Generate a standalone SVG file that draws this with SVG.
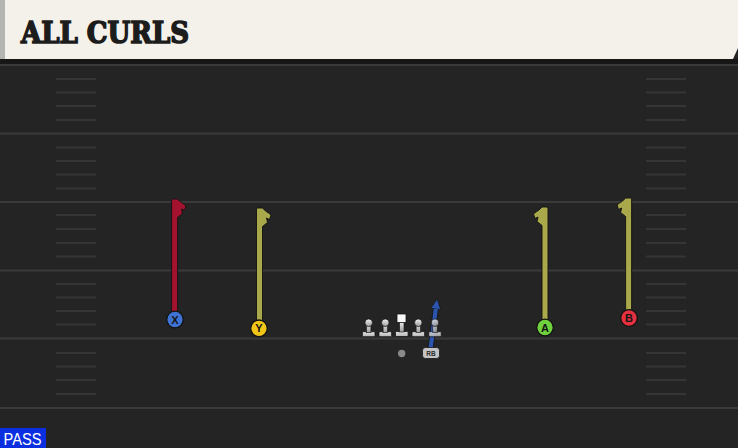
<svg xmlns="http://www.w3.org/2000/svg" width="738" height="448" viewBox="0 0 738 448">
<defs>
<linearGradient id="lg" x1="0" y1="0" x2="0" y2="1">
<stop offset="0" stop-color="#f2f2f2"/>
<stop offset="1" stop-color="#9a9a9a"/>
</linearGradient>
<linearGradient id="bg" x1="0" y1="0" x2="0" y2="1">
<stop offset="0" stop-color="#e4e4e4"/>
<stop offset="1" stop-color="#b4b4b4"/>
</linearGradient>
<marker id="arrB" viewBox="0 0 10 10" refX="4" refY="5" markerWidth="2.4" markerHeight="2.4" orient="auto">
<path d="M0,0 L10,5 L0,10 Z" fill="#2d55b0" stroke="#121212" stroke-width="0.6"/>
</marker>
<g id="lineman">
<rect x="-6.3" y="9" width="12.6" height="5" rx="1" fill="url(#bg)" stroke="#151515" stroke-width="0.8"/>
<rect x="-2.2" y="0" width="4.4" height="10" fill="url(#lg)" stroke="#151515" stroke-width="0.6"/>
<circle cx="0" cy="0" r="3.8" fill="url(#lg)" stroke="#151515" stroke-width="0.8"/>
</g>
</defs>
<style>
.yard{stroke:#3a3a3a;stroke-width:2}
.hash{stroke:#353535;stroke-width:2}
.route{stroke:#121212;stroke-width:0.9;stroke-linejoin:round}
.olive{fill:#a9a84a}
.red{fill:#a3132f}
.lbl{font-family:"Liberation Sans",Arial,sans-serif;font-weight:bold;font-size:11px;fill:#151515;text-anchor:middle}
.pc{stroke:#121212;stroke-width:1.3}
</style>
<rect x="0" y="0" width="738" height="448" fill="#242424"/>
<rect x="0" y="59" width="738" height="5" fill="#171717"/>
<g id="field">
<line class="yard" x1="0" y1="65" x2="738" y2="65"/>
<line class="yard" x1="0" y1="133.5" x2="738" y2="133.5"/>
<line class="yard" x1="0" y1="202" x2="738" y2="202"/>
<line class="yard" x1="0" y1="270.5" x2="738" y2="270.5"/>
<line class="yard" x1="0" y1="338.5" x2="738" y2="338.5"/>
<line class="yard" x1="0" y1="408" x2="738" y2="408"/>
<g id="hashes">
<path class="hash" d="M56,79H96M56,92.5H96M56,106H96M56,120H96M56,147.5H96M56,161H96M56,174.5H96M56,188.5H96M56,215H96M56,229H96M56,243H96M56,256.5H96M56,284H96M56,297.5H96M56,311H96M56,324.5H96M56,353H96M56,366.5H96M56,380H96M56,394H96"/>
<path class="hash" d="M646,79H686M646,92.5H686M646,106H686M646,120H686M646,147.5H686M646,161H686M646,174.5H686M646,188.5H686M646,215H686M646,229H686M646,243H686M646,256.5H686M646,284H686M646,297.5H686M646,311H686M646,324.5H686M646,353H686M646,366.5H686M646,380H686M646,394H686"/>
</g>
</g>
<g id="header">
<rect x="0" y="0" width="5" height="59" fill="#b3b5b2"/>
<polygon points="5,0 738,0 738,48 733,59 5,59" fill="#f4f1ea"/>
<text x="21" y="43" font-family="DejaVu Serif, 'Liberation Serif', serif" font-weight="900" font-size="29" fill="#1c1c1c" stroke="#1c1c1c" stroke-width="1.6" textLength="168" lengthAdjust="spacingAndGlyphs">ALL CURLS</text>
</g>
<g id="connectors">
<path id="route-x" class="route red" d="M171.6,313 V200 L172.6,199 H177.6 L180.6,202 L183.6,204 L186,206 L184.5,210.5 L181.5,209 L182.5,213.5 L177.6,217.5 V313 Z"/>
<path id="route-y" class="route olive" d="M256.5,321 V209 L257.5,208 H262.5 L265.5,211 L268.5,213 L271,215 L269.5,219.5 L266.5,218 L267.5,222.5 L262.5,226.5 V321 Z"/>
<path id="route-a" class="route olive" d="M548,320 V208 L547,207 H542 L539,210 L536,212 L533.5,214 L535,218.5 L538,217 L537,221.5 L542,225.5 V320 Z"/>
<path id="route-b" class="route olive" d="M631.6,310 V199 L630.6,198 H625.6 L622.6,201 L619.6,203 L617.1,205 L618.6,209.5 L621.6,208 L620.6,212.5 L625.6,216.5 V310 Z"/>
<g id="route-rb">
<line x1="430.5" y1="349" x2="436.3" y2="305" stroke="#121212" stroke-width="5.6"/>
<line x1="430.5" y1="349" x2="436.3" y2="305" stroke="#2d55b0" stroke-width="4.2" marker-end="url(#arrB)"/>
</g>
</g>
<g id="player-x">
<circle class="pc" cx="175" cy="319.5" r="8.3" fill="#3f73d3"/>
<text class="lbl" x="175" y="323.5">X</text>
</g>
<g id="player-y">
<circle class="pc" cx="259" cy="328.3" r="8.3" fill="#f2c619"/>
<text class="lbl" x="259" y="332.3">Y</text>
</g>
<g id="player-a">
<circle class="pc" cx="545" cy="327.5" r="8.3" fill="#6fd13e"/>
<text class="lbl" x="545" y="331.5">A</text>
</g>
<g id="player-b">
<circle class="pc" cx="629" cy="318" r="8.3" fill="#e5303f"/>
<text class="lbl" x="629" y="322">B</text>
</g>
<g id="line-lt"><use href="#lineman" x="368.7" y="322.7"/></g>
<g id="line-lg"><use href="#lineman" x="385.3" y="322.7"/></g>
<g id="line-c">
<rect x="395.5" y="331.5" width="12.6" height="5" rx="1" fill="url(#bg)" stroke="#151515" stroke-width="0.8"/>
<rect x="399.6" y="321" width="4.4" height="11" fill="url(#lg)" stroke="#151515" stroke-width="0.6"/>
<rect x="397" y="314" width="9" height="8.5" fill="#f8f8f8" stroke="#151515" stroke-width="0.8"/>
</g>
<g id="line-rg"><use href="#lineman" x="418.3" y="322.7"/></g>
<g id="line-rt" opacity="0.85"><use href="#lineman" x="435" y="322.7"/></g>
<g id="qb"><circle cx="401.7" cy="353.5" r="4.2" fill="#8a8a8a" stroke="#151515" stroke-width="0.8"/></g>
<g id="rb">
<rect x="422.5" y="347.5" width="17" height="11" rx="3" fill="#c4c4c4" stroke="#151515" stroke-width="0.8"/>
<text x="431" y="356" font-family="'Liberation Sans',Arial,sans-serif" font-weight="bold" font-size="6.5" fill="#2a2a2a" text-anchor="middle">RB</text>
</g>
<g id="pass-tag">
<rect x="0" y="428" width="46" height="20" fill="#0b2fe0"/>
<text x="3.5" y="444.5" font-family="'Liberation Sans Narrow','Liberation Sans',Arial,sans-serif" font-size="16" fill="#ffffff" textLength="38" lengthAdjust="spacingAndGlyphs">PASS</text>
</g>
</svg>
